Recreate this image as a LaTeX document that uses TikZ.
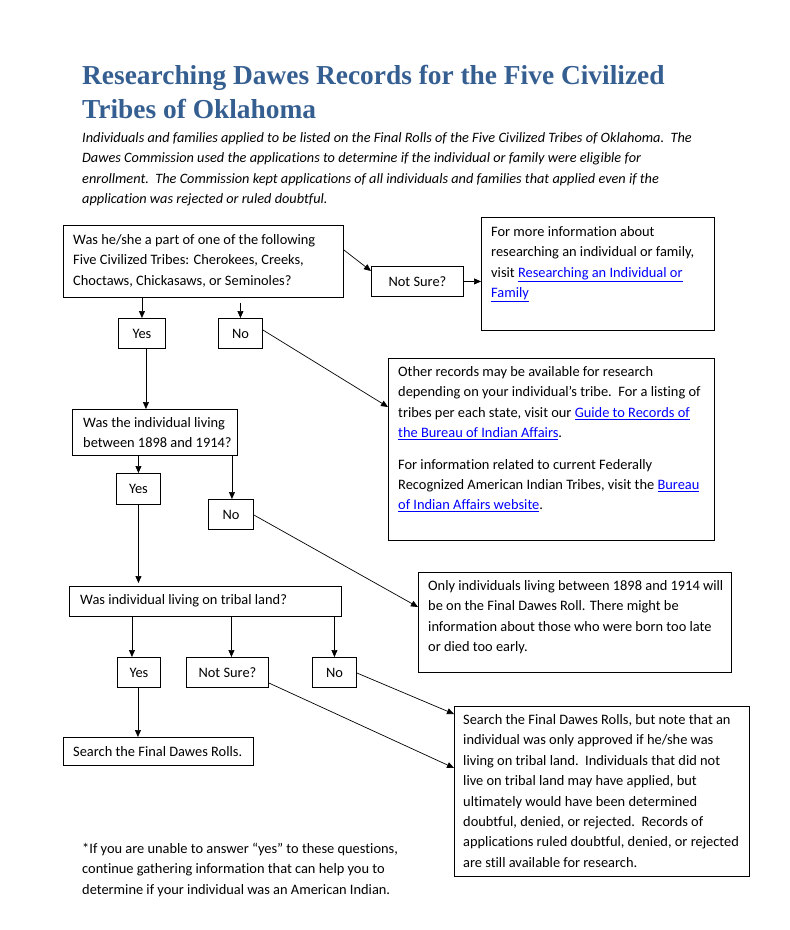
\documentclass[tikz,border=0pt]{standalone}
\usepackage{fontspec}
\setmainfont{Carlito}[Ligatures=NoCommon]
\newfontfamily\titlefont{Liberation Serif}
\usetikzlibrary{arrows.meta,calc}
\definecolor{ttlblue}{RGB}{54,95,145}
\definecolor{linkblue}{RGB}{0,0,255}
\newcommand{\hlink}[1]{\textcolor{linkblue}{\underline{#1}}}
\newcommand{\bx}[5]{\node[box, minimum width={#4-#2}, minimum height={#5-#3}] (#1) at (#2,#3) {};}
\begin{document}
\begin{tikzpicture}[x=1pt,y=-1pt,
  box/.style={draw, line width=0.9pt, inner sep=0pt, anchor=north west},
  sbox/.style={draw, line width=0.9pt, inner sep=0pt, anchor=north west, font=\fontsize{14.4}{20.4}\selectfont},
  txt/.style={anchor=north west, inner sep=0pt, align=left, font=\fontsize{14.4}{20.4}\selectfont},
  arr/.style={-{Triangle[length=7pt,width=6pt]}, line width=0.7pt}]
\useasboundingbox[fill=white] (0,0) rectangle (790,930);

% title
\node[anchor=base west, inner sep=0pt, align=left, text=ttlblue,
      font=\fontsize{27.4}{34}\selectfont\titlefont\bfseries] (title) at (82,118)
  {Researching Dawes Records for the Five Civilized\\Tribes of Oklahoma};
\node[txt, font=\fontsize{14.3}{20.4}\selectfont\itshape] (intro) at (82,128)
  {\strut Individuals and families applied to be listed on the Final Rolls of the Five Civilized Tribes of Oklahoma.\ \ The\\
   Dawes Commission used the applications to determine if the individual or family were eligible for\\
   enrollment.\ \ The Commission kept applications of all individuals and families that applied even if the\\
   application was rejected or ruled doubtful.};

% boxes
\bx{q1}{63}{225}{343}{297}
\node[txt] (q1t) at (73,230) {\strut Was he/she a part of one of the following\\Five Civilized Tribes: Cherokees, Creeks,\\Choctaws, Chickasaws, or Seminoles?};
\node[sbox, minimum width=92, minimum height=30] (ns1) at (371,266) {Not Sure?};
\bx{i1}{481}{217}{714}{330}
\node[txt] (i1t) at (491,222) {\strut For more information about\\researching an individual or family,\\visit \hlink{Researching an Individual or}\\\hlink{Family}};
\node[sbox, minimum width=47, minimum height=30] (y1) at (118,318) {Yes};
\node[sbox, minimum width=44, minimum height=30] (n1) at (218,318) {No};

\bx{q2}{72}{409}{237}{455}
\node[txt] (q2t) at (83,413) {\strut Was the individual living\\between 1898 and 1914?};
\bx{i2}{388}{358}{714}{540}
\node[txt] (i2t) at (398,362) {\strut Other records may be available for research\\depending on your individual’s tribe.\ \ For a listing of\\tribes per each state, visit our \hlink{Guide to Records of}\\\hlink{the Bureau of Indian Affairs}.\\[11pt]For information related to current Federally\\Recognized American Indian Tribes, visit the \hlink{Bureau}\\\hlink{of Indian Affairs website}.};
\node[sbox, minimum width=44, minimum height=31] (y2) at (116,473) {Yes};
\node[sbox, minimum width=45, minimum height=30] (n2) at (208,499) {No};

\bx{q3}{69}{586}{341}{616}
\node[txt] (q3t) at (80,590) {\strut Was individual living on tribal land?};
\bx{i3}{418}{572}{731}{672}
\node[txt] (i3t) at (428,576) {\strut Only individuals living between 1898 and 1914 will\\be on the Final Dawes Roll. There might be\\information about those who were born too late\\or died too early.};
\node[sbox, minimum width=43, minimum height=30] (y3) at (117,657) {Yes};
\node[sbox, minimum width=82, minimum height=30] (ns3) at (186,657) {Not Sure?};
\node[sbox, minimum width=44, minimum height=30] (n3) at (312,657) {No};

\bx{s}{63}{737}{253}{765}
\node[txt] (st) at (73,742) {\strut Search the Final Dawes Rolls.};
\bx{i4}{454}{706}{749}{876}
\node[txt] (i4t) at (463,710) {\strut Search the Final Dawes Rolls, but note that an\\individual was only approved if he/she was\\living on tribal land.\ \ Individuals that did not\\live on tribal land may have applied, but\\ultimately would have been determined\\doubtful, denied, or rejected.\ \ Records of\\applications ruled doubtful, denied, or rejected\\are still available for research.};

\node[txt] (foot) at (82,839) {\strut *If you are unable to answer “yes” to these questions,\\continue gathering information that can help you to\\determine if your individual was an American Indian.};

% connectors
\draw[arr] ([yshift=-25pt]q1.north east) -- ([yshift=-5pt]ns1.north west);
\draw[arr] (ns1.east) -- (ns1.east -| i1.west);
\draw[arr] (y1.north |- q1.south) -- (y1.north);
\draw[arr] ([yshift=-5pt]n1.north |- q1.south) -- (n1.north);
\draw[arr] ([xshift=4pt]y1.south) -- ([xshift=4pt]y1.south |- q2.north);
\draw[arr] ([yshift=-12pt]n1.north east) -- ([yshift=-49pt]i2.north west);
\draw[arr] (y2.north |- q2.south) -- (y2.north);
\draw[arr] ([xshift=1pt]n2.north |- q2.south) -- ([xshift=1pt]n2.north);
\draw[arr] (y2.south) -- ([yshift=3pt]y2.south |- q3.north);
\draw[arr] ([yshift=-16pt]n2.north east) -- ([yshift=-35pt]i3.north west);
\draw[arr] ([xshift=-7pt]y3.north |- q3.south) -- ([xshift=-7pt]y3.north);
\draw[arr] ([xshift=4pt]ns3.north |- q3.south) -- ([xshift=4pt]ns3.north);
\draw[arr] (n3.north |- q3.south) -- (n3.north);
\draw[arr] ([xshift=-1pt]y3.south) -- ([xshift=-1pt]y3.south |- s.north);
\draw[arr] ([yshift=-16pt]n3.north east) -- ([yshift=-8pt]i4.north west);
\draw[arr] ([yshift=-26pt]ns3.north east) -- ([yshift=-62pt]i4.north west);
\end{tikzpicture}
\end{document}
